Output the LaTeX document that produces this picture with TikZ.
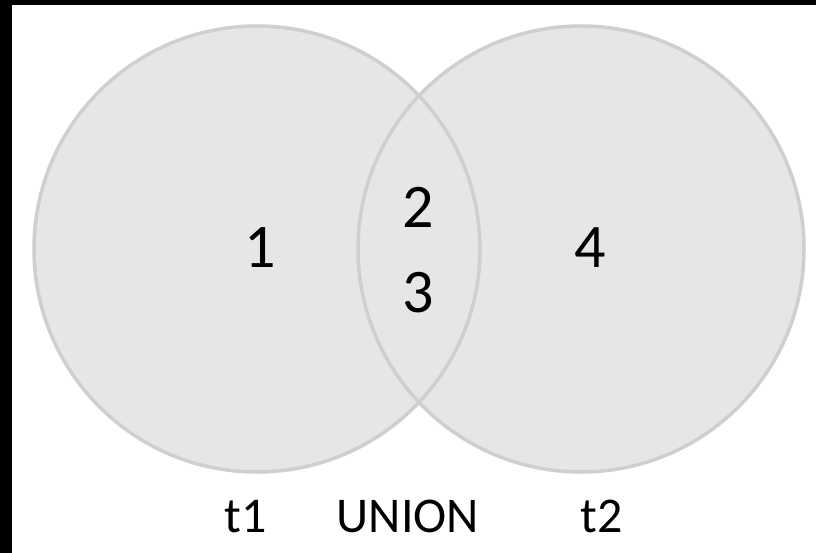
\documentclass[tikz,border=0pt]{standalone}
\usepackage{fontspec}
\setmainfont{Carlito}
\definecolor{vfill}{HTML}{E6E6E6}
\definecolor{vline}{HTML}{CFCFCF}
\begin{document}
\begin{tikzpicture}[x=1pt,y=-1pt,
  setc/.style={fill=vfill},
  seto/.style={draw=vline,line width=3.5pt},
  num/.style={font=\fontsize{62}{64}\selectfont,text=black,inner sep=0pt},
  lab/.style={font=\fontsize{50}{52}\selectfont,text=black,inner sep=0pt,anchor=base}]
\useasboundingbox (0,0) rectangle (816,553);
\fill[black] (0,0) rectangle (816,553);
\fill[white] (12,5) rectangle (816,553);
\coordinate (c1) at (257,249);
\coordinate (c2) at (581,249);
\fill[setc] (c1) circle (223);
\fill[setc] (c2) circle (223);
\draw[seto] (c1) circle (223);
\draw[seto] (c2) circle (223);
\node[num] (n1) at (260,248) {1};
\node[num] (n4) at (590,248) {4};
\node[num] (n2) at (418,207) {2};
\node[num] (n3) at (418,293) {3};
\node[lab] (t1) at (246,532) {t1};
\node[lab] (un) at (408,532) {UNION};
\node[lab] (t2) at (602,532) {t2};
\end{tikzpicture}
\end{document}
